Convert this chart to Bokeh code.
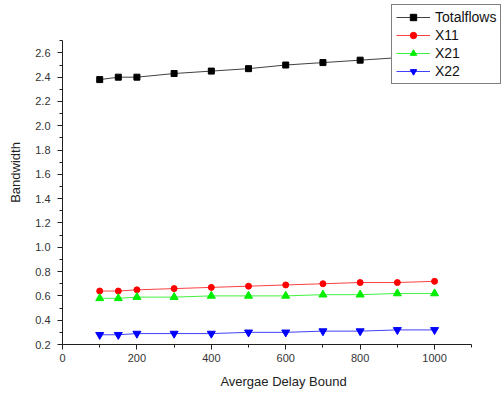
from bokeh.plotting import figure
from bokeh.models import Range1d, Legend, LegendItem, FixedTicker, NumeralTickFormatter
from bokeh.embed import file_html
from bokeh.resources import INLINE

delay = [100, 150, 200, 300, 400, 500, 600, 700, 800, 900, 1000]
totalflows = [2.38, 2.40, 2.40, 2.43, 2.45, 2.47, 2.50, 2.52, 2.54, 2.56, 2.58]
x11 = [0.64, 0.64, 0.65, 0.66, 0.67, 0.68, 0.69, 0.70, 0.71, 0.71, 0.72]
x21 = [0.58, 0.58, 0.59, 0.59, 0.60, 0.60, 0.60, 0.61, 0.61, 0.62, 0.62]
x22 = [0.28, 0.28, 0.29, 0.29, 0.29, 0.30, 0.30, 0.31, 0.31, 0.32, 0.32]
x_ticks = [0, 200, 400, 600, 800, 1000]
y_ticks = [0.2, 0.4, 0.6, 0.8, 1.0, 1.2, 1.4, 1.6, 1.8, 2.0, 2.2, 2.4, 2.6]

FONT = "Liberation Sans"

p = figure(width=504, height=394, output_backend="svg", toolbar_location=None,
           x_range=Range1d(0, 1188), y_range=Range1d(0.2, 3.031),
           min_border_left=62, min_border_right=0, min_border_top=0, min_border_bottom=50)
p.outline_line_color = None
p.grid.visible = False
p.background_fill_color = "white"

p.xaxis.ticker = FixedTicker(ticks=x_ticks, minor_ticks=[100, 300, 500, 700, 900, 1100])
p.yaxis.ticker = FixedTicker(ticks=y_ticks, minor_ticks=[0.3, 0.5, 0.7, 0.9, 1.1, 1.3, 1.5, 1.7, 1.9, 2.1, 2.3, 2.5, 2.7])
p.xaxis.bounds = (0, 1100)
p.yaxis.bounds = (0.2, 2.7)
p.yaxis.formatter = NumeralTickFormatter(format="0.0")
for ax in (p.xaxis, p.yaxis):
    ax.axis_line_color = "#202020"
    ax.major_tick_line_color = "#202020"
    ax.minor_tick_line_color = "#202020"
    ax.major_tick_out = 5
    ax.major_tick_in = 0
    ax.minor_tick_out = 3
    ax.minor_tick_in = 0
    ax.major_label_text_font = FONT
    ax.major_label_text_font_size = "11px"
    ax.major_label_text_color = "#333333"
    ax.axis_label_text_font = FONT
    ax.axis_label_text_font_size = "13px"
    ax.axis_label_text_font_style = "normal"
    ax.axis_label_text_color = "#222222"
p.xaxis.axis_label = "Avergae Delay Bound"
p.yaxis.axis_label = "Bandwidth"
p.xaxis.major_label_standoff = 4
p.yaxis.major_label_standoff = 7
p.xaxis.axis_label_standoff = 9
p.yaxis.axis_label_standoff = 9

series = [
    ("Totalflows", totalflows, "#000000", "square", 6),
    ("X11", x11, "#ff0000", "circle", 6),
    ("X21", x21, "#00ee00", "triangle", 8),
    ("X22", x22, "#0000ff", "inverted_triangle", 8),
]
items = []
for name, ys, col, mk, sz in series:
    ln = p.line(delay, ys, line_color=col, line_width=1, line_alpha=0.75)
    sc = p.scatter(delay, ys, marker=mk, size=sz, fill_color=col, line_color=col)
    items.append(LegendItem(label=name, renderers=[ln, sc]))

legend = Legend(items=items, location=(329, 260))
legend.label_text_font = FONT
legend.label_text_font_size = "14px"
legend.label_text_color = "#111111"
legend.border_line_color = "black"
legend.border_line_width = 1
legend.background_fill_color = "white"
legend.background_fill_alpha = 1
legend.glyph_width = 34
legend.glyph_height = 16
legend.label_standoff = 5
legend.spacing = 2
legend.padding = 4
legend.margin = 0
p.add_layout(legend, "center")

open("out.html", "w").write(file_html(p, INLINE))
